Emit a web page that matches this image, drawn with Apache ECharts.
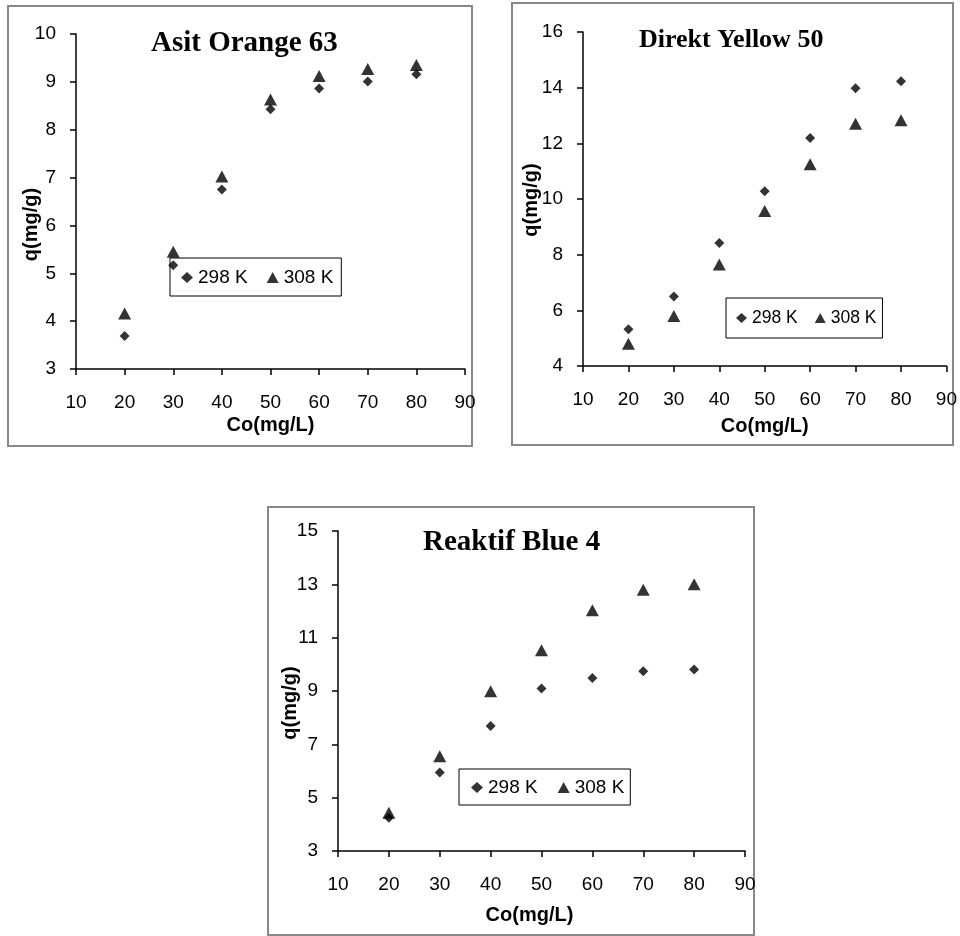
<!DOCTYPE html>
<html>
<head>
<meta charset="utf-8">
<script src="https://cdn.jsdelivr.net/npm/echarts@6/dist/echarts.min.js"></script>
<style>
  html, body { margin: 0; padding: 0; background: #fff; }
  #chart { width: 960px; height: 936px; }
</style>
</head>
<body>
<div id="chart"></div>
<script>
// Initial dye concentration Co (mg/L)
const concentrations = [20, 30, 40, 50, 60, 70, 80];

// Adsorbed amount q (mg/g) at 298 K and 308 K for each dye
const orange298 = [3.69, 5.17, 6.75, 8.43, 8.86, 9.01, 9.16];
const orange308 = [4.16, 5.45, 7.02, 8.63, 9.12, 9.27, 9.35];

const yellow298 = [5.32, 6.50, 8.42, 10.28, 12.19, 13.98, 14.23];
const yellow308 = [4.80, 5.80, 7.65, 9.57, 11.25, 12.70, 12.83];

const blue298 = [4.25, 5.94, 7.69, 9.09, 9.49, 9.74, 9.81];
const blue308 = [4.43, 6.55, 8.99, 10.53, 12.03, 12.80, 13.00];

const dyeTitles = ['Asit Orange 63', 'Direkt Yellow 50', 'Reaktif Blue 4'];
const seriesNames = ['298 K', '308 K'];
const xAxisName = 'Co(mg/L)';
const yAxisName = 'q(mg/g)';

const SANS = 'Liberation Sans, Arial, sans-serif';
const SERIF = 'Liberation Serif, Times New Roman, serif';

function pairs(xs, ys) {
  return xs.map((x, i) => [x, ys[i]]);
}

// panel layout: plot area, frame, title, legend box and axis-name placement
const panels = [
  {
    grid: { left: 76, top: 34, width: 389, height: 335 },
    frame: { x: 8, y: 6, width: 464, height: 440 },
    title: { left: 151, top: 29, size: 29 },
    legend: { left: 170, top: 258, size: 19, gap: 19, pad: [10, 8, 9, 11], icon: [12, 11] },
    y: { min: 3, max: 10, interval: 1 },
    yNameGap: 35, yNameShift: 23,
    xNameGap: 46, xNameShift: 0,
    data: [orange298, orange308]
  },
  {
    grid: { left: 583, top: 32, width: 365, height: 334 },
    frame: { x: 512, y: 3, width: 441, height: 442 },
    title: { left: 639, top: 27, size: 26 },
    legend: { left: 726, top: 298, size: 17.5, gap: 17, pad: [11, 6, 11, 10], icon: [11, 10] },
    y: { min: 4, max: 16, interval: 2 },
    yNameGap: 42, yNameShift: 1,
    xNameGap: 50, xNameShift: 0,
    data: [yellow298, yellow308]
  },
  {
    grid: { left: 338, top: 531, width: 407, height: 320 },
    frame: { x: 268, y: 507, width: 486, height: 428 },
    title: { left: 423, top: 528, size: 29 },
    legend: { left: 459, top: 769, size: 19, gap: 20, pad: [9, 6, 8, 12], icon: [12, 11] },
    y: { min: 3, max: 15, interval: 2 },
    yNameGap: 38, yNameShift: 12,
    xNameGap: 54, xNameShift: 12,
    data: [blue298, blue308]
  }
];

const axisLine = { show: true, lineStyle: { color: '#000', width: 1.5 } };
const axisTick = { show: true, inside: false, length: 6, lineStyle: { color: '#000', width: 1.5 } };

const option = {
  animation: false,
  backgroundColor: '#fff',
  graphic: panels.map(p => ({
    type: 'rect',
    shape: p.frame,
    style: { fill: null, stroke: '#888', lineWidth: 2 },
    silent: true
  })),
  title: panels.map((p, i) => ({
    text: dyeTitles[i],
    left: p.title.left,
    top: p.title.top,
    padding: 0,
    textStyle: { fontFamily: SERIF, fontWeight: 'bold', fontSize: p.title.size, color: '#000' }
  })),
  legend: panels.map(p => ({
    data: seriesNames,
    left: p.legend.left,
    top: p.legend.top,
    orient: 'horizontal',
    padding: p.legend.pad,
    itemGap: p.legend.gap,
    itemWidth: p.legend.icon[0],
    itemHeight: p.legend.icon[1],
    borderColor: '#000',
    borderWidth: 1,
    selectedMode: false,
    textStyle: { fontFamily: SANS, fontSize: p.legend.size, color: '#000' }
  })),
  grid: panels.map(p => Object.assign({ containLabel: false }, p.grid)),
  xAxis: panels.map((p, i) => ({
    type: 'value',
    gridIndex: i,
    min: 10, max: 90, interval: 10,
    axisLine, axisTick,
    splitLine: { show: false },
    axisLabel: { fontFamily: SANS, fontSize: 19, color: '#000', margin: 24 },
    name: xAxisName,
    nameLocation: 'middle',
    nameGap: p.xNameGap,
    nameMoveOverlap: false,
    nameTextStyle: {
      fontFamily: SANS, fontSize: 20, fontWeight: 'bold', color: '#000',
      padding: [0, 2 * p.xNameShift, 0, 0]
    }
  })),
  yAxis: panels.map((p, i) => ({
    type: 'value',
    gridIndex: i,
    min: p.y.min, max: p.y.max, interval: p.y.interval,
    axisLine, axisTick,
    splitLine: { show: false },
    axisLabel: { fontFamily: SANS, fontSize: 19, color: '#000', margin: 20 },
    name: yAxisName,
    nameLocation: 'middle',
    nameGap: p.yNameGap,
    nameMoveOverlap: false,
    nameTextStyle: {
      fontFamily: SANS, fontSize: 20, fontWeight: 'bold', color: '#000',
      padding: [0, 2 * p.yNameShift, 0, 0]
    }
  })),
  series: panels.flatMap((p, i) => [
    {
      name: seriesNames[0],
      type: 'scatter',
      xAxisIndex: i, yAxisIndex: i,
      symbol: 'diamond',
      symbolSize: [10, 10],
      itemStyle: { color: '#000' },
      data: pairs(concentrations, p.data[0])
    },
    {
      name: seriesNames[1],
      type: 'scatter',
      xAxisIndex: i, yAxisIndex: i,
      symbol: 'triangle',
      symbolSize: [13, 12],
      itemStyle: { color: '#000' },
      data: pairs(concentrations, p.data[1])
    }
  ])
};

const chart = echarts.init(document.getElementById('chart'), null, { renderer: 'canvas' });
chart.setOption(option);
</script>
</body>
</html>
